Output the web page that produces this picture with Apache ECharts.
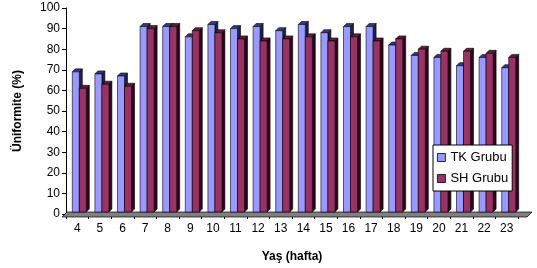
<!DOCTYPE html>
<html>
<head>
<meta charset="utf-8">
<script src="https://cdn.jsdelivr.net/npm/echarts@6/dist/echarts.min.js"></script>
<style>
  html, body { margin: 0; padding: 0; background: #fff; }
  #chart { width: 537px; height: 268px; }
</style>
</head>
<body>
<div id="chart"></div>
<script>
// haftalar (x ekseni)
const weeks = ['4', '5', '6', '7', '8', '9', '10', '11', '12', '13', '14', '15', '16', '17', '18', '19', '20', '21', '22', '23']
const tkValues = [69, 68, 67, 91, 91, 86, 92, 90, 91, 89, 92, 88, 91, 91, 82, 77, 76, 72, 76, 71]
const shValues = [61, 63, 62, 90, 91, 89, 88, 85, 84, 85, 86, 84, 86, 84, 85, 80, 79, 79, 78, 76]
const yTicks = [0, 10, 20, 30, 40, 50, 60, 70, 80, 90, 100]

const DEPTH = 3
const BAR_W = 7

// 3D-like bar drawn with the axes' own scale
function bar3d(offset, front, top, side) {
  return function (params, api) {
    const idx = api.value(0)
    const p = api.coord([idx, api.value(1)])
    const base = api.coord([idx, 0])[1] - 2
    const x0 = p[0] + offset
    const y = p[1]
    const w = BAR_W
    const d = DEPTH
    const stroke = { stroke: '#000', lineWidth: 0.6 }
    return {
      type: 'group',
      children: [
        {
          type: 'polygon',
          shape: { points: [[x0 + w, y], [x0 + w + d, y - d], [x0 + w + d, base - d], [x0 + w, base]] },
          style: Object.assign({ fill: side }, stroke),
        },
        {
          type: 'polygon',
          shape: { points: [[x0, y], [x0 + d, y - d], [x0 + w + d, y - d], [x0 + w, y]] },
          style: Object.assign({ fill: top }, stroke),
        },
        {
          type: 'rect',
          shape: { x: x0, y: y, width: w, height: base - y },
          style: Object.assign({ fill: front }, stroke),
        },
      ],
    }
  }
}

const chart = echarts.init(document.getElementById('chart'), null, { renderer: 'canvas' })

chart.setOption({
  animation: false,
  textStyle: { fontFamily: 'Liberation Sans, Arial, sans-serif' },
  grid: { left: 66, right: 19, top: 8, bottom: 52 },
  legend: {
    z: 20,
    left: 433,
    top: 145,
    orient: 'vertical',
    backgroundColor: '#fff',
    borderColor: '#000',
    borderWidth: 1,
    padding: [5, 4, 5, 4],
    itemGap: 6,
    itemWidth: 8,
    itemHeight: 8,
    icon: 'rect',
    textStyle: { fontSize: 13, color: '#000', lineHeight: 15 },
    data: [
      { name: 'TK Grubu', itemStyle: { color: '#9999ff', borderColor: '#000', borderWidth: 0.8 } },
      { name: 'SH Grubu', itemStyle: { color: '#993366', borderColor: '#000', borderWidth: 0.8 } },
    ],
  },
  graphic: [
    {
      type: 'polygon',
      z: 1,
      shape: { points: [[62, 217], [527, 217], [532, 212], [67, 212]] },
      style: { fill: '#808080', stroke: '#000', lineWidth: 0.7 },
    },
  ],
  xAxis: {
    type: 'category',
    data: weeks,
    name: 'Yaş (hafta)',
    nameLocation: 'middle',
    nameGap: 37,
    nameTextStyle: { fontSize: 12, fontWeight: 'bold', color: '#000' },
    axisLine: { show: false },
    axisTick: { show: true, length: 5, lineStyle: { color: '#000' } },
    axisLabel: { fontSize: 12, color: '#000', margin: 9 },
  },
  yAxis: {
    type: 'value',
    min: 0,
    max: 100,
    interval: yTicks[1] - yTicks[0],
    name: 'Üniformite (%)',
    nameLocation: 'middle',
    nameGap: 42,
    nameTextStyle: { fontSize: 12, fontWeight: 'bold', color: '#000' },
    axisLine: { show: true, lineStyle: { color: '#000' } },
    axisTick: { show: true, length: 4, lineStyle: { color: '#000' } },
    axisLabel: { fontSize: 12, color: '#000', margin: 6 },
    splitLine: { show: false },
  },
  series: [
    {
      name: 'TK Grubu',
      type: 'custom',
      z: 5,
      itemStyle: { color: '#9999ff' },
      encode: { x: 0, y: 1 },
      renderItem: bar3d(-5, '#9999ff', '#333399', '#1f1f55'),
      data: tkValues.map((v, i) => [i, v]),
    },
    {
      name: 'SH Grubu',
      type: 'custom',
      z: 5,
      itemStyle: { color: '#993366' },
      encode: { x: 0, y: 1 },
      renderItem: bar3d(2, '#993366', '#661a40', '#33001a'),
      data: shValues.map((v, i) => [i, v]),
    },
  ],
})
</script>
</body>
</html>
